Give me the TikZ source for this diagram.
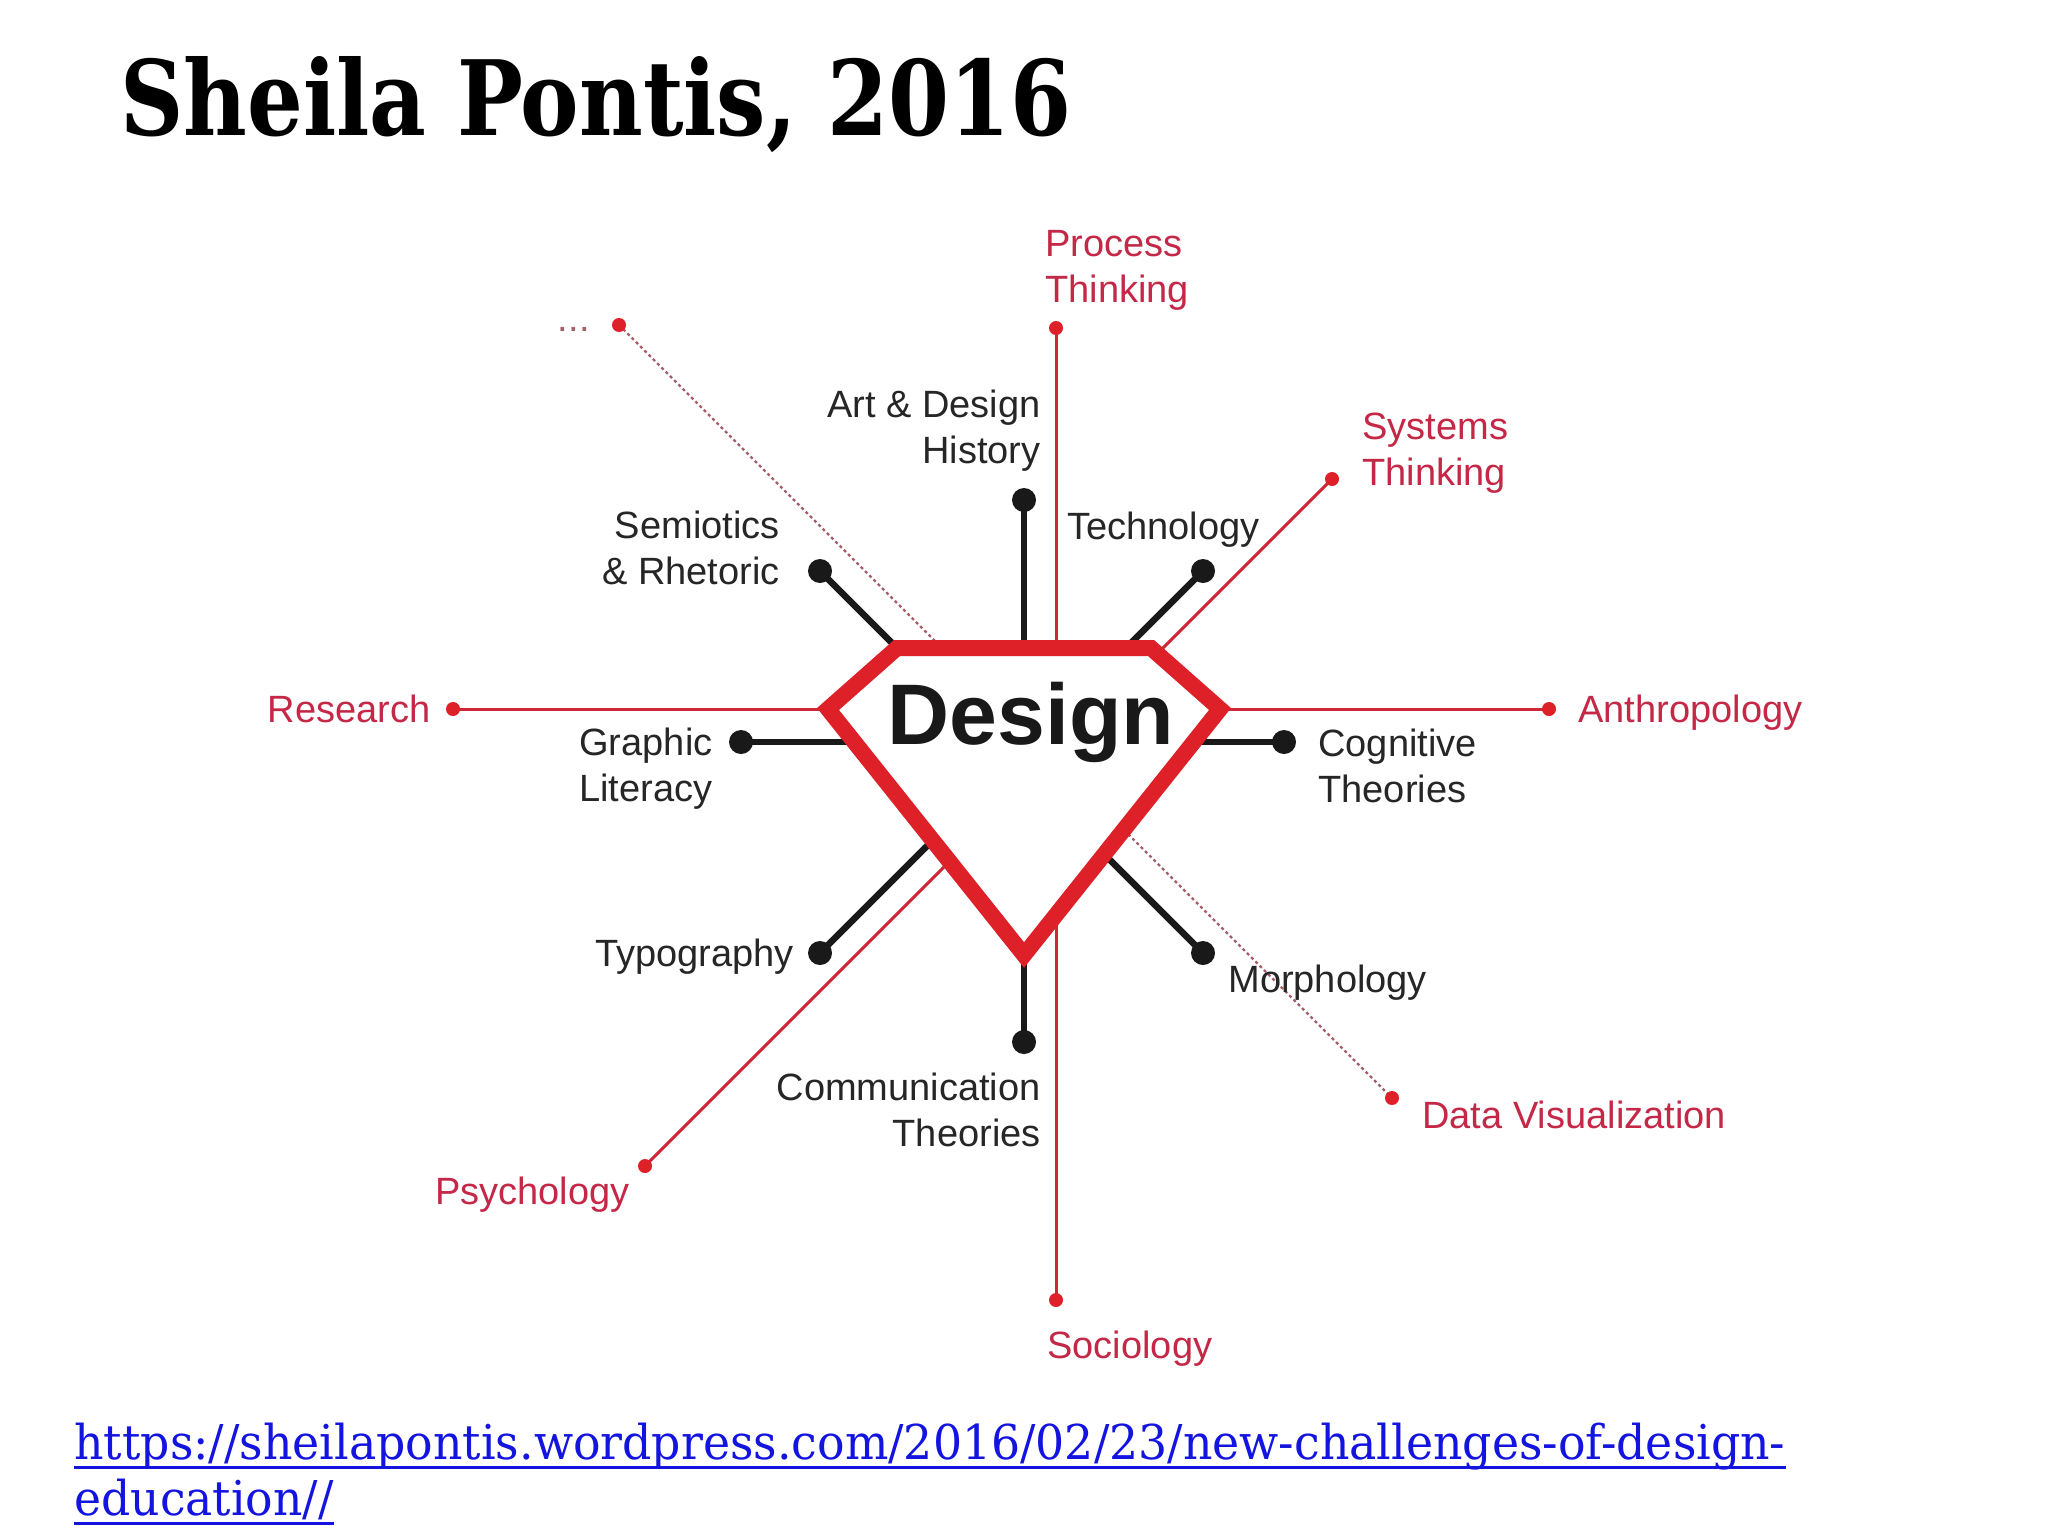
\documentclass[tikz,border=0pt]{standalone}
\usepackage{fontspec}
\usepackage{graphicx}
\setmainfont{Liberation Sans}
\newfontfamily\titlefont{DejaVu Serif}
\newfontfamily\urlfont{DejaVu Serif}
\definecolor{gemred}{RGB}{222,32,40}
\definecolor{linered}{RGB}{205,40,55}
\definecolor{labelred}{RGB}{196,40,70}
\definecolor{labelgray}{RGB}{38,38,38}
\definecolor{dotblack}{RGB}{25,25,25}
\definecolor{dotcol}{RGB}{165,95,105}
\definecolor{urlblue}{RGB}{20,20,225}
\pgfdeclarelayer{paper}
\pgfdeclarelayer{lines}
\pgfdeclarelayer{gemlayer}
\pgfsetlayers{paper,lines,gemlayer,main}
\begin{document}
\begin{tikzpicture}[x=0.5pt,y=-0.5pt,
  lbl/.style={font=\fontsize{19}{23}\selectfont, inner sep=0pt, text=labelgray},
  redlbl/.style={lbl, text=labelred},
  bdot/.style={circle, fill=dotblack, inner sep=0pt, minimum size=12pt},
  rdot/.style={circle, fill=gemred, inner sep=0pt, minimum size=7pt},
  spoke/.style={draw=dotblack, line width=3.3pt},
  thread/.style={draw=linered, line width=1.5pt},
  dotline/.style={draw=dotcol, line width=1.2pt, dash pattern=on 1.5pt off 1.5pt},
  gemshape/.style={draw=gemred, line width=8pt, fill=white, line join=miter}]
\useasboundingbox (0,0) rectangle (2048,1536);
\begin{pgfonlayer}{paper}
\fill[white] (0,0) rectangle (2048,1536);
\end{pgfonlayer}

% title
\node[anchor=base west, inner sep=0pt] (title) at (120,135)
  {\resizebox{475.5pt}{\height}{\titlefont\bfseries\fontsize{52}{52}\selectfont Sheila Pontis, 2016}};

% red end dots
\node[rdot] (ellD) at (619,325) {};
\node[rdot] (procD) at (1056,328) {};
\node[rdot] (socD) at (1056,1300) {};
\node[rdot] (resD) at (453,709) {};
\node[rdot] (anthD) at (1549,709) {};
\node[rdot] (sysD) at (1332,479) {};
\node[rdot] (psyD) at (645,1166) {};
\node[rdot] (dvD) at (1392,1098) {};

% black end dots
\node[bdot] (adhD) at (1024,500) {};
\node[bdot] (semD) at (820,571) {};
\node[bdot] (tecD) at (1203,571) {};
\node[bdot] (graD) at (741,742) {};
\node[bdot] (cogD) at (1284,742) {};
\node[bdot] (typD) at (820,953) {};
\node[bdot] (morD) at (1203,953) {};
\node[bdot] (comD) at (1024,1042) {};

% gem corners
\coordinate (gTL) at (897,648);
\coordinate (gTR) at (1151,648);
\coordinate (gR) at (1220,709);
\coordinate (gB) at (1024,955);
\coordinate (gL) at (828,709);

% spoke ends (hidden under gem)
\coordinate (adhE) at (1024,670);
\coordinate (semE) at (910,661);
\coordinate (tecE) at (1114,660);
\coordinate (graE) at (880,742);
\coordinate (cogE) at (1170,742);
\coordinate (typE) at (950,823);
\coordinate (morE) at (1093,843);
\coordinate (comE) at (1024,935);

\begin{pgfonlayer}{lines}
\draw[thread] (procD.center) -- (socD.center);
\draw[thread] (resD.center) -- (anthD.center);
\draw[thread] (psyD.center) -- (sysD.center);
\draw[dotline] (ellD.center) -- (dvD.center);
\draw[spoke] (adhD.center) -- (adhE);
\draw[spoke] (semD.center) -- (semE);
\draw[spoke] (tecD.center) -- (tecE);
\draw[spoke] (graD.center) -- (graE);
\draw[spoke] (cogD.center) -- (cogE);
\draw[spoke] (typD.center) -- (typE);
\draw[spoke] (morD.center) -- (morE);
\draw[spoke] (comD.center) -- (comE);
\end{pgfonlayer}

\begin{pgfonlayer}{gemlayer}
\draw[gemshape] (gTL) -- (gTR) -- (gR) -- (gB) -- (gL) -- cycle;
\end{pgfonlayer}

\node[font=\bfseries\fontsize{43}{43}\selectfont, text=dotblack, anchor=base west, inner sep=0pt] (design) at (887,744) {Design};

% labels
\node[redlbl, anchor=west, align=left] (proc) at (1045,270) {Process\\Thinking};
\node[redlbl, anchor=west, align=left] (sys) at (1362,453) {Systems\\Thinking};
\node[lbl, anchor=east, align=right] (adh) at (1041,431) {Art \& Design\\History};
\node[lbl, anchor=east, align=right] (sem) at (780,548) {Semiotics\\\& Rhetoric};
\node[lbl, anchor=west] (tec) at (1067,530) {Technology};
\node[redlbl, anchor=east] (res) at (431,709) {Research};
\node[redlbl, anchor=west] (anth) at (1578,713) {Anthropology};
\node[lbl, anchor=west, align=left] (gra) at (579,769) {Graphic\\Literacy};
\node[lbl, anchor=west, align=left] (cog) at (1318,766) {Cognitive\\Theories};
\node[lbl, anchor=east] (typ) at (794,957) {Typography};
\node[lbl, anchor=west] (mor) at (1228,983) {Morphology};
\node[lbl, anchor=east, align=right] (com) at (1041,1110) {Communication\\Theories};
\node[redlbl, anchor=east] (psy) at (630,1195) {Psychology};
\node[redlbl, anchor=west] (dv) at (1422,1115) {Data Visualization};
\node[redlbl, anchor=west] (soc) at (1047,1349) {Sociology};
\node[lbl, text=dotcol, anchor=east] (ell) at (590,329) {...};

% url
\node[anchor=base west, inner sep=0pt, text=urlblue] (url1) at (74,1459)
  {\resizebox{855.5pt}{\height}{\urlfont\fontsize{24}{24}\selectfont https://sheilapontis.wordpress.com/2016/02/23/new-challenges-of-design-}};
\node[anchor=base west, inner sep=0pt, text=urlblue] (url2) at (74,1515)
  {\resizebox{129.5pt}{\height}{\urlfont\fontsize{24}{24}\selectfont education//}};
\draw[urlblue, line width=1.5pt] ([yshift=-4pt]url1.base west) -- ([yshift=-4pt]url1.base east);
\draw[urlblue, line width=1.5pt] ([yshift=-4pt]url2.base west) -- ([yshift=-4pt]url2.base east);
\end{tikzpicture}
\end{document}
